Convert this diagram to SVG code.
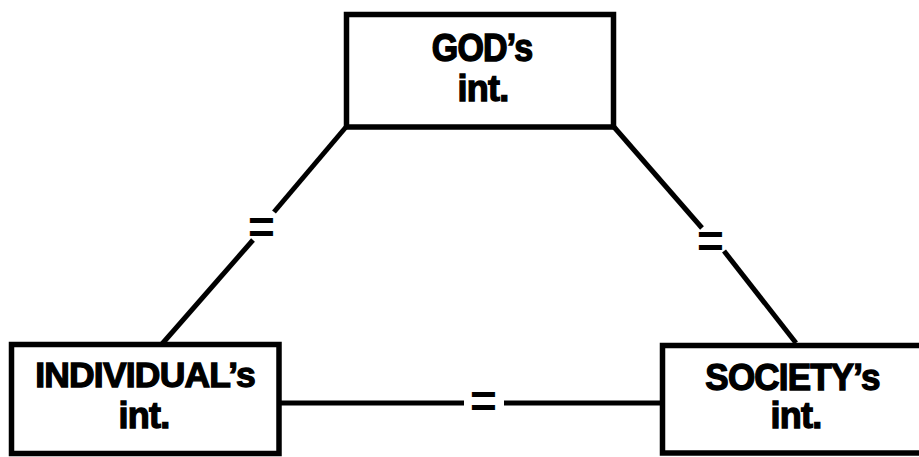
<svg xmlns="http://www.w3.org/2000/svg" width="919" height="457" viewBox="0 0 919 457">
<style>
.box{fill:#fff;stroke:#000;stroke-width:5.5}
.ln{stroke:#000;stroke-width:5;fill:none}
.lbl{font-family:"Liberation Sans",Arial,sans-serif;font-weight:bold;font-size:34px;fill:#000;stroke:#000;stroke-width:1.3;text-anchor:middle;letter-spacing:-0.8px}
.int{font-size:36px}
.eq{font-family:"Liberation Sans",Arial,sans-serif;font-weight:bold;font-size:46px;fill:#000;text-anchor:middle}
</style>
<rect width="919" height="457" fill="#fff"/>
<g id="connectors">
<line class="ln" x1="346" y1="127" x2="274" y2="212"/>
<line class="ln" x1="253" y1="240" x2="162" y2="344"/>
<line class="ln" x1="614" y1="127" x2="702" y2="228"/>
<line class="ln" x1="724" y1="251" x2="796" y2="343"/>
<line class="ln" x1="279" y1="403" x2="464" y2="403"/>
<line class="ln" x1="504" y1="403" x2="662" y2="403"/>
<text class="eq" x="261.5" y="243">=</text>
<text class="eq" x="710.5" y="257">=</text>
<text class="eq" x="483.5" y="417">=</text>
</g>
<g id="god">
<rect class="box" x="346.5" y="14.5" width="267" height="112.5"/>
<text class="lbl" transform="translate(482,61) scale(1,1.12)">GOD’s</text>
<text class="lbl int" transform="translate(483,101) scale(1,1)">int.</text>
</g>
<g id="individual">
<rect class="box" x="11.5" y="344.5" width="267.5" height="109"/>
<text class="lbl" style="font-size:35.5px" transform="translate(145,387) scale(1,0.98)">INDIVIDUAL’s</text>
<text class="lbl int" transform="translate(144,428) scale(1,1)">int.</text>
</g>
<g id="society">
<rect class="box" x="662.5" y="345.5" width="270" height="107.5"/>
<text class="lbl" style="font-size:35px" transform="translate(792.5,390) scale(1,1.05)">SOCIETY’s</text>
<text class="lbl int" transform="translate(796,428) scale(1,1)">int.</text>
</g>
</svg>
